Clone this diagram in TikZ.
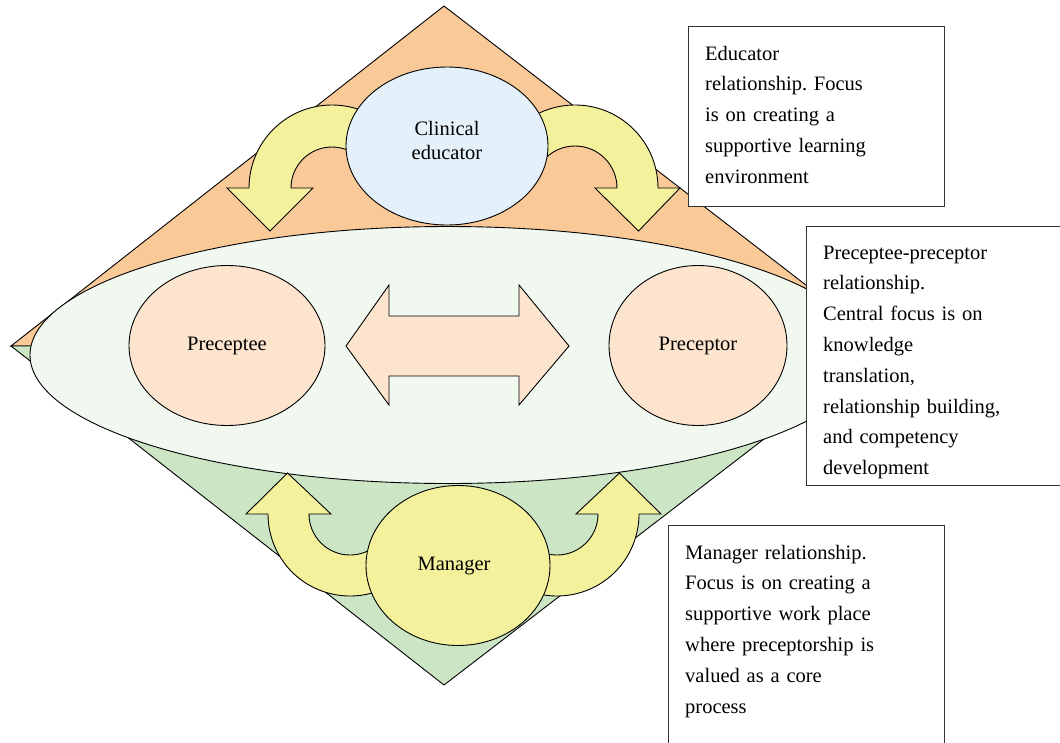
\documentclass[tikz,border=0pt]{standalone}
\usepackage{fontspec}
\setmainfont{Liberation Serif}
\usetikzlibrary{shapes.geometric}
\definecolor{dorange}{HTML}{F9C998}
\definecolor{dgreen}{HTML}{CCE6C5}
\definecolor{bigell}{HTML}{F1F8F0}
\definecolor{peach}{HTML}{FDE4CE}
\definecolor{lblue}{HTML}{E4F1FA}
\definecolor{yel}{HTML}{F4F19D}
\definecolor{boxline}{HTML}{333333}
\frenchspacing
\begin{document}
\begin{tikzpicture}[x=1pt,y=-1pt,
  thinline/.style={draw=black, line width=0.9pt, line join=miter},
  ell/.style={ellipse, thinline, inner sep=0pt, font=\fontsize{20.5}{24}\selectfont, align=center},
  curv/.style={thinline, fill=yel},
  boxnode/.style={rectangle, draw=boxline, line width=1.3pt, fill=white, inner sep=0pt, anchor=north west},
  txt/.style={inner sep=0pt, anchor=base west, align=left, text width=240pt, font=\fontsize{20.5}{30.8}\selectfont}
]
\useasboundingbox (0,0) rectangle (1060,742);
\clip (0,0) rectangle (1060,742);
% diamond
\path[thinline, fill=dorange] (11,346) -- (444,6) -- (885,346) -- cycle;
\path[thinline, fill=dgreen] (11,346) -- (444,685) -- (885,346) -- cycle;
% central ellipse
\node[ell, fill=bigell, minimum width=836pt, minimum height=257pt] (central) at (448,355) {};
% clinical educator arrows
\path[curv] (332,188) ++(-40:83) arc[start angle=-40, end angle=-180, radius=83]
  -- (227,188) -- (270,231) -- (313,188) -- (291,188)
  arc[start angle=-180, end angle=-40, radius=41] -- cycle;
\path[curv] (575,188) ++(-140:83) arc[start angle=-140, end angle=0, radius=83]
  -- (680,188) -- (638.5,231) -- (595,188) -- (617,188)
  arc[start angle=0, end angle=-140, radius=42] -- cycle;
\node[ell, fill=lblue, minimum width=202pt, minimum height=158pt] (edu) at (447,146) {Clinical\\educator\\[-12pt]\mbox{}};
% manager arrows
\path[curv] (350,514) ++(55:82) arc[start angle=55, end angle=180, radius=82]
  -- (246,514) -- (287.5,473) -- (331,514) -- (309,514)
  arc[start angle=180, end angle=55, radius=41] -- cycle;
\path[curv] (557,514) ++(125:82) arc[start angle=125, end angle=0, radius=82]
  -- (661,514) -- (619.5,473) -- (576,514) -- (598,514)
  arc[start angle=0, end angle=125, radius=41] -- cycle;
\node[ell, fill=yel, minimum width=184pt, minimum height=160pt] (mgr) at (458,565.5) {\hspace*{-8pt}Manager};
% preceptee / preceptor
\node[ell, fill=peach, minimum width=196pt, minimum height=160pt] (pee) at (227,345.5) {Preceptee};
\node[ell, fill=peach, minimum width=178pt, minimum height=160pt] (por) at (698,345.5) {Preceptor};
% double arrow
\path[thinline, fill=peach] (346,346) -- (389,285) -- (389,316) -- (519,316) -- (519,285)
  -- (569,346) -- (519,405) -- (519,376) -- (389,376) -- (389,405) -- cycle;
% boxes
\node[boxnode, minimum width=256pt, minimum height=180pt] (b1) at (688,26) {};
\node[boxnode, minimum width=300pt, minimum height=259pt] (b2) at (806,226) {};
\node[boxnode, minimum width=276pt, minimum height=260pt] (b3) at (668,525) {};
\node[txt] (t1) at (705,60) {Educator\\relationship. Focus\\is on creating a\\supportive learning\\environment};
\node[txt] (t2) at (823,259) {Preceptee-preceptor\\relationship.\\Central focus is on\\knowledge\\translation,\\relationship building,\\and competency\\development};
\node[txt] (t3) at (685,559) {Manager relationship.\\Focus is on creating a\\supportive work place\\where preceptorship is\\valued as a core\\process};
\end{tikzpicture}
\end{document}
